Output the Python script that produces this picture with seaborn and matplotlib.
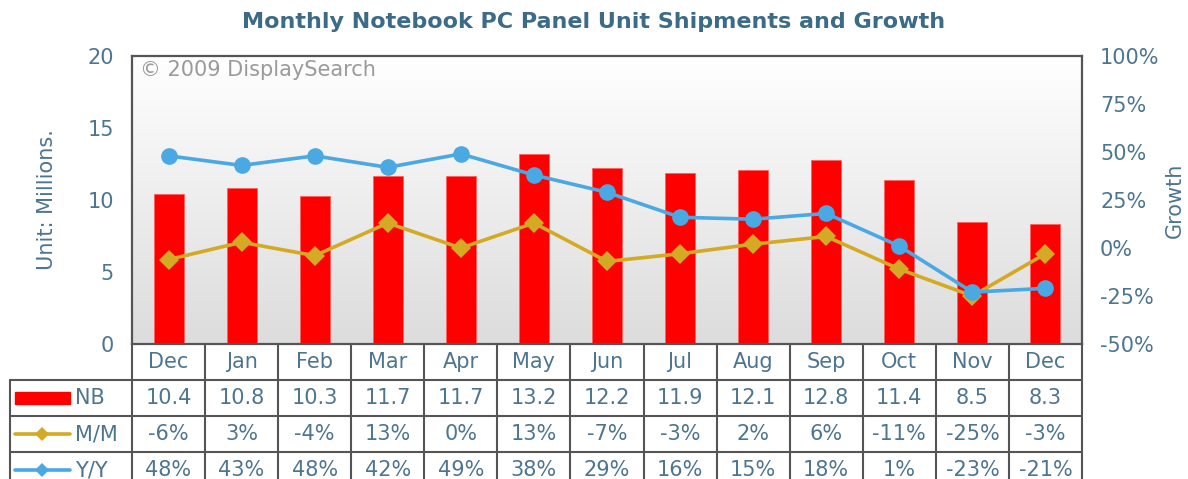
import numpy as np
import seaborn as sns
import matplotlib.pyplot as plt
from matplotlib.colors import LinearSegmentedColormap
from matplotlib.lines import Line2D
from matplotlib.patches import Rectangle

months = ["Dec", "Jan", "Feb", "Mar", "Apr", "May", "Jun",
          "Jul", "Aug", "Sep", "Oct", "Nov", "Dec"]
nb_units = [10.4, 10.8, 10.3, 11.7, 11.7, 13.2, 12.2, 11.9, 12.1, 12.8, 11.4, 8.5, 8.3]
mm_growth = [-6, 3, -4, 13, 0, 13, -7, -3, 2, 6, -11, -25, -3]
yy_growth = [48, 43, 48, 42, 49, 38, 29, 16, 15, 18, 1, -23, -21]
left_ticks = [0, 5, 10, 15, 20]
right_ticks = [-50, -25, 0, 25, 50, 75, 100]

TEXT = "#4d7590"
TITLE = "#3c6b88"
RED = "#ff0000"
GOLD = "#d4a924"
BLUE = "#4aa8e2"
BORDER = "#555555"
FS = 15

sns.set_style("white")
plt.rcParams["font.family"] = ["DejaVu Sans"]

W, H = 1188, 479
fig = plt.figure(figsize=(W / 100, H / 100), dpi=100)

x0, x1, ytop, ybot = 132, 1082, 56, 344
ax = fig.add_axes([x0 / W, (H - ybot) / H, (x1 - x0) / W, (ybot - ytop) / H])
xs = np.arange(len(months))

# gradient background, white at the top
cmap = LinearSegmentedColormap.from_list("bg", ["#ffffff", "#dcdcdc"])
ax.imshow(np.linspace(1, 0, 256)[:, None], extent=[-0.5, 12.5, 0, 20],
          aspect="auto", cmap=cmap, zorder=0, origin="lower")

sns.barplot(x=xs, y=nb_units, color=RED, saturation=1, width=0.41,
            edgecolor="#ff6060", linewidth=0.6, ax=ax, zorder=2)
ax.set_xlim(-0.5, 12.5)
ax.set_ylim(0, 20)
ax.set_yticks(left_ticks)
ax.set_yticklabels([str(t) for t in left_ticks], color=TEXT, fontsize=FS)
ax.tick_params(axis="y", length=0, pad=13)
ax.set_xticks([])
ax.set_xlabel("")
ax.set_ylabel("Unit: Millions.", color=TEXT, fontsize=FS, labelpad=22)
for s in ax.spines.values():
    s.set_color(BORDER)
    s.set_linewidth(1.6)
ax.text(0.008, 0.985, "\u00a9 2009 DisplaySearch", transform=ax.transAxes,
        ha="left", va="top", color="#9a9a9a", fontsize=FS, zorder=5)

ax2 = ax.twinx()
sns.lineplot(x=xs, y=yy_growth, color=BLUE, linewidth=2.6, marker="o",
             markersize=12, markeredgewidth=0, ax=ax2, zorder=4)
sns.lineplot(x=xs, y=mm_growth, color=GOLD, linewidth=2.6, marker="D",
             markersize=10, markeredgewidth=0, ax=ax2, zorder=3)
ax2.set_ylim(-50, 100)
ax2.set_yticks(right_ticks)
ax2.set_yticklabels([f"{t}%" for t in right_ticks], color=TEXT, fontsize=FS)
ax2.tick_params(axis="y", length=0, pad=13)
ax2.set_ylabel("Growth", color=TEXT, fontsize=FS, labelpad=4)
for s in ax2.spines.values():
    s.set_visible(False)
ax.set_zorder(1)
ax2.set_zorder(2)
ax2.patch.set_visible(False)

fig.text(0.5, 1 - 22 / H, "Monthly Notebook PC Panel Unit Shipments and Growth",
         ha="center", va="center", color=TITLE, fontsize=16, fontweight="bold")

# data table under the plot
row_h = 36
tab_h = H - ybot
axt = fig.add_axes([x0 / W, 0, (x1 - x0) / W, tab_h / H])
axt.set_xlim(-0.5, 12.5)
axt.set_ylim(tab_h / row_h, 0)
axt.axis("off")
unit = (x1 - x0) / 13.0
xl = -0.5 - (x0 - 10) / unit
kw = dict(color=BORDER, linewidth=1.5, clip_on=False)
for i in range(14):
    axt.plot([i - 0.5, i - 0.5], [0, 5], **kw)
axt.plot([xl, xl], [1, 5], **kw)
for r in (1, 2, 3):
    axt.plot([xl, 12.5], [r, r], **kw)

rows = [
    [f"{v:.1f}" for v in nb_units],
    [f"{v}%" for v in mm_growth],
    [f"{v}%" for v in yy_growth],
]
for i, m in enumerate(months):
    axt.text(i, 0.5, m, ha="center", va="center", color=TEXT, fontsize=FS)
for r, vals in enumerate(rows):
    for i, v in enumerate(vals):
        axt.text(i, r + 1.5, v, ha="center", va="center", color=TEXT,
                 fontsize=FS, clip_on=False)

# row labels with legend swatches
sw0 = xl + 5 / unit
sw1 = xl + 60 / unit
axt.add_patch(Rectangle((sw0, 1.32), sw1 - sw0, 0.36, color=RED, clip_on=False))
for r, (name, col) in enumerate([("NB", None), ("M/M", GOLD), ("Y/Y", BLUE)]):
    axt.text(sw1 + 5 / unit, r + 1.5, name, ha="left", va="center",
             color=TEXT, fontsize=FS, clip_on=False)
    if col is not None:
        axt.add_line(Line2D([sw0, sw1], [r + 1.5, r + 1.5], color=col,
                            linewidth=2.6, clip_on=False))
        axt.add_line(Line2D([(sw0 + sw1) / 2], [r + 1.5], color=col, marker="D",
                            markersize=7, markeredgewidth=0, clip_on=False))

fig.savefig("out.png", dpi=100)
plt.close(fig)
